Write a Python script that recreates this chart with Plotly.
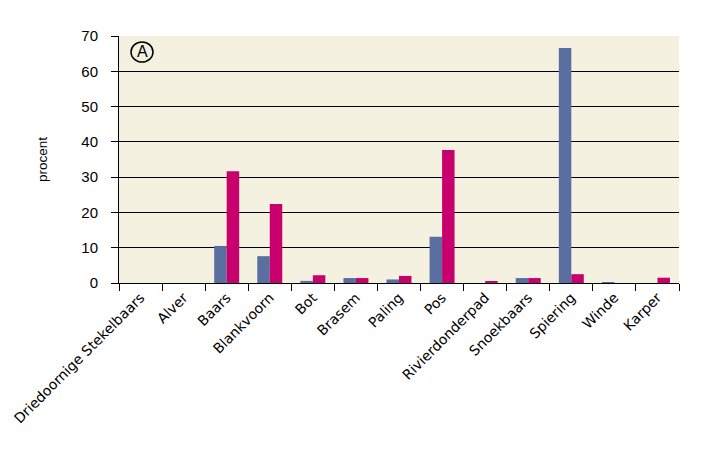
import plotly.graph_objects as go

categories = ["Driedoornige Stekelbaars", "Alver", "Baars", "Blankvoorn", "Bot", "Brasem",
              "Paling", "Pos", "Rivierdonderpad", "Snoekbaars", "Spiering", "Winde", "Karper"]
series_blue = [0, 0, 10.5, 7.6, 0.6, 1.4, 1.0, 13.1, 0, 1.4, 66.6, 0.2, 0]
series_magenta = [0, 0, 31.7, 22.4, 2.2, 1.4, 2.0, 37.7, 0.5, 1.4, 2.5, 0, 1.5]
y_ticks = [0, 10, 20, 30, 40, 50, 60, 70]

fig = go.Figure()
fig.add_trace(go.Bar(x=categories, y=series_blue, marker_color="#5A6EA0", marker_line_width=0, name="blue"))
fig.add_trace(go.Bar(x=categories, y=series_magenta, marker_color="#C8006E", marker_line_width=0, name="magenta"))

fig.update_layout(
    width=723, height=458,
    margin=dict(l=119, r=44, t=36, b=175),
    paper_bgcolor="white", plot_bgcolor="#F5F1E0",
    barmode="group", bargap=0.42, bargroupgap=0,
    showlegend=False,
    font=dict(family="Liberation Sans, Arial", color="black"),
)
fig.update_yaxes(
    range=[0, 70], tickvals=y_ticks, showgrid=True, gridcolor="black", gridwidth=1,
    showline=True, linecolor="black", linewidth=1, ticks="outside", ticklen=7, tickcolor="black",
    ticklabelstandoff=10,
    tickfont=dict(size=15, family="Liberation Sans, Arial"), zeroline=False,
    title=dict(text="procent", font=dict(size=13.5, family="Liberation Sans, Arial"), standoff=30),
)
fig.update_xaxes(
    showline=True, linecolor="black", linewidth=1, ticks="outside", ticklen=7, tickcolor="black",
    tickson="boundaries", tickangle=-45,
    tickfont=dict(size=14, family="DejaVu Sans"),
)
fig.add_shape(type="circle", xref="paper", yref="paper",
              xsizemode="pixel", ysizemode="pixel",
              xanchor=23/560, yanchor=1-16/247,
              x0=-11, x1=11, y0=-10, y1=10,
              line=dict(color="black", width=1.5))
fig.add_annotation(text="A", xref="paper", yref="paper", x=23/560, y=1-16/247,
                   xanchor="center", yanchor="middle",
                   showarrow=False, font=dict(size=16, family="Liberation Sans, Arial"))

fig.write_html("out.html")
